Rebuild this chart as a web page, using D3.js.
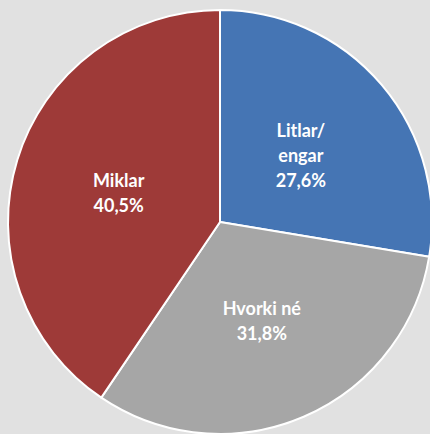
<!DOCTYPE html>
<html><head><meta charset="utf-8">
<script src="https://cdn.jsdelivr.net/npm/d3@7"></script>
<style>html,body{margin:0;padding:0;background:#e1e1e1;}svg{display:block;}</style>
</head><body>
<script>
const categories = ["Litlar/engar", "Hvorki né", "Miklar"];
const labelLines = [["Litlar/", "engar"], ["Hvorki né"], ["Miklar"]];
const values = [27.6, 31.8, 40.5];
const valueLabels = ["27,6%", "31,8%", "40,5%"];
const colors = ["#4575b4", "#a6a6a6", "#9e3a38"];

const W = 430, H = 434;
const cx = 220, cy = 222, R = 212;
const svg = d3.select("body").append("svg").attr("width", W).attr("height", H);
svg.append("rect").attr("width", W).attr("height", H).attr("fill", "#e1e1e1");
const g = svg.append("g").attr("transform", `translate(${cx},${cy})`);
const pie = d3.pie().sort(null).value(d => d)(values);
const arc = d3.arc().innerRadius(0).outerRadius(R);
g.selectAll("path").data(pie).join("path")
  .attr("d", arc).attr("fill", (d, i) => colors[i])
  .attr("stroke", "#fff").attr("stroke-width", 2).attr("stroke-linejoin", "round");
const lab = d3.arc().innerRadius(0).outerRadius(R);
pie.forEach((d, i) => {
  const [x, y] = lab.centroid(d);
  const lines = labelLines[i].concat([valueLabels[i]]);
  const lh = 25;
  const t = g.append("text").attr("text-anchor", "middle")
    .attr("font-family", "Lato, 'Open Sans', sans-serif").attr("font-weight", "bold")
    .attr("font-size", 18).attr("fill", "#fff");
  lines.forEach((s, k) => {
    t.append("tspan").attr("x", x).attr("y", y + 2 + (k - (lines.length - 1) / 2) * lh)
      .attr("dy", "0.35em").text(s);
  });
});
</script>
</body></html>
